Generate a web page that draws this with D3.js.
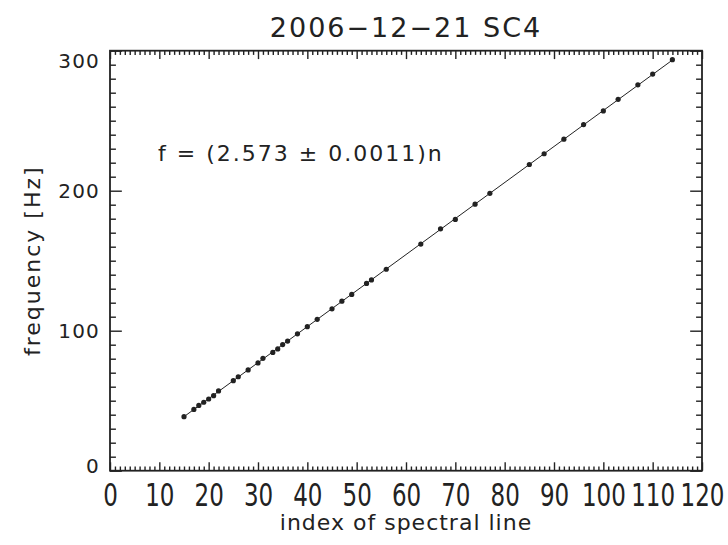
<!DOCTYPE html>
<html>
<head>
<meta charset="utf-8">
<script src="https://cdn.jsdelivr.net/npm/d3@7"></script>
<style>
  html, body { margin: 0; padding: 0; background: #fff; }
  svg text { font-family: "DejaVu Sans", sans-serif; fill: #222; }
</style>
</head>
<body>
<svg id="chart" width="728" height="545"></svg>
<script>
// Spectral line indices and measured frequencies [Hz]
const lineIndex = [15, 17, 18, 19, 20, 21, 22, 25, 26, 28, 30, 31, 33, 34, 35, 36, 38, 40, 42,
  45, 47, 49, 52, 53, 56, 63, 67, 70, 74, 77, 85, 88, 92, 96, 100, 103, 107, 110, 114];
const frequency = [38.6, 43.8, 46.6, 48.9, 51.2, 53.6, 57.0, 64.3, 67.1, 72.0, 77.0, 80.3, 84.5, 87.0,
  90.1, 92.6, 97.8, 102.9, 108.1, 115.6, 121.1, 125.9, 133.8, 136.3, 143.9, 161.9, 172.8, 179.5,
  190.4, 198.1, 218.7, 226.4, 236.8, 247.2, 257.0, 265.3, 275.6, 283.3, 293.6];

// Linear fit f = k n
const slope = 2.573;
const slopeErr = 0.0011;

const xTicks = [0, 10, 20, 30, 40, 50, 60, 70, 80, 90, 100, 110, 120];
const yTicks = [0, 100, 200, 300];

const titleText = "2006\u221212\u221221 SC4";
const xLabel = "index of spectral line";
const yLabel = "frequency [Hz]";

const L = 110, R = 702, T = 50.7, B = 470.7;
const W = R - L, H = B - T;

const svg = d3.select("#chart");
const x = d3.scaleLinear().domain([0, 120]).range([L, R]);
const y = d3.scaleLinear().domain([0, 300]).range([B, T]);

const ink = "#222";
const majX = 0.02 * H, majY = 0.02 * W;

function styleAxis(g) {
  g.select(".domain").remove();
  g.selectAll("line").attr("stroke", ink).attr("stroke-width", 1.4);
}

// minor ticks
const xMinor = d3.range(0, 121, 1).filter(v => v % 10 !== 0);
const yMinor = d3.range(0, 301, 10).filter(v => v % 100 !== 0);

// bottom axis, labels drawn tall and narrow
const xStretch = 1.36;
const gx = svg.append("g").attr("transform", `translate(0,${B})`)
  .call(d3.axisBottom(x).tickValues(xTicks).tickSize(-majX).tickFormat(d3.format("d")));
styleAxis(gx);
gx.selectAll("text")
  .attr("font-size", 23).attr("fill", ink)
  .attr("dy", null).attr("y", 35.5 / xStretch)
  .attr("transform", `scale(1,${xStretch})`);
svg.append("g").attr("transform", `translate(0,${B})`)
  .call(d3.axisBottom(x).tickValues(xMinor).tickSize(-majX / 2).tickFormat(""))
  .call(styleAxis);

// top axis
svg.append("g").attr("transform", `translate(0,${T})`)
  .call(d3.axisTop(x).tickValues(xTicks).tickSize(-majX).tickFormat(""))
  .call(styleAxis);
svg.append("g").attr("transform", `translate(0,${T})`)
  .call(d3.axisTop(x).tickValues(xMinor).tickSize(-majX / 2).tickFormat(""))
  .call(styleAxis);

// left axis
const gy = svg.append("g").attr("transform", `translate(${L},0)`)
  .call(d3.axisLeft(y).tickValues(yTicks).tickSize(-majY).tickPadding(10).tickFormat(d3.format("d")));
styleAxis(gy);
gy.selectAll("text").attr("font-size", 20).attr("letter-spacing", 1.2).attr("fill", ink)
  .attr("dy", d => d === 300 ? "0.83em" : d === 0 ? "0.07em" : "0.35em");
svg.append("g").attr("transform", `translate(${L},0)`)
  .call(d3.axisLeft(y).tickValues(yMinor).tickSize(-majY / 2).tickFormat(""))
  .call(styleAxis);

// right axis
svg.append("g").attr("transform", `translate(${R},0)`)
  .call(d3.axisRight(y).tickValues(yTicks).tickSize(-majY).tickFormat(""))
  .call(styleAxis);
svg.append("g").attr("transform", `translate(${R},0)`)
  .call(d3.axisRight(y).tickValues(yMinor).tickSize(-majY / 2).tickFormat(""))
  .call(styleAxis);

// frame
svg.append("rect").attr("x", L).attr("y", T).attr("width", W).attr("height", H)
  .attr("fill", "none").attr("stroke", ink).attr("stroke-width", 1.8);

// fit line across the measured range
const nMin = d3.min(lineIndex), nMax = d3.max(lineIndex);
svg.append("line")
  .attr("x1", x(nMin)).attr("y1", y(slope * nMin))
  .attr("x2", x(nMax)).attr("y2", y(slope * nMax))
  .attr("stroke", ink).attr("stroke-width", 1);

// measured points
svg.append("g").selectAll("circle")
  .data(lineIndex.map((n, i) => ({ n, f: frequency[i] })))
  .join("circle")
  .attr("cx", d => x(d.n)).attr("cy", d => y(d.f)).attr("r", 2.6)
  .attr("fill", ink);

// title and labels
svg.append("text").attr("x", (L + R) / 2).attr("y", 37).attr("text-anchor", "middle")
  .attr("font-size", 27).attr("letter-spacing", 2).text(titleText);

svg.append("text").attr("x", (L + R) / 2).attr("y", 530).attr("text-anchor", "middle")
  .attr("font-size", 22).attr("letter-spacing", 1).text(xLabel);

svg.append("text").attr("transform", `translate(40,${(T + B) / 2}) rotate(-90)`)
  .attr("text-anchor", "middle").attr("font-size", 22).attr("letter-spacing", 2).text(yLabel);

svg.append("text").attr("x", 158).attr("y", 161)
  .attr("font-size", 22).attr("letter-spacing", 2).attr("xml:space", "preserve")
  .text(`f = (${slope.toFixed(3)} \u00b1 ${slopeErr.toFixed(4)})n`);
</script>
</body>
</html>
